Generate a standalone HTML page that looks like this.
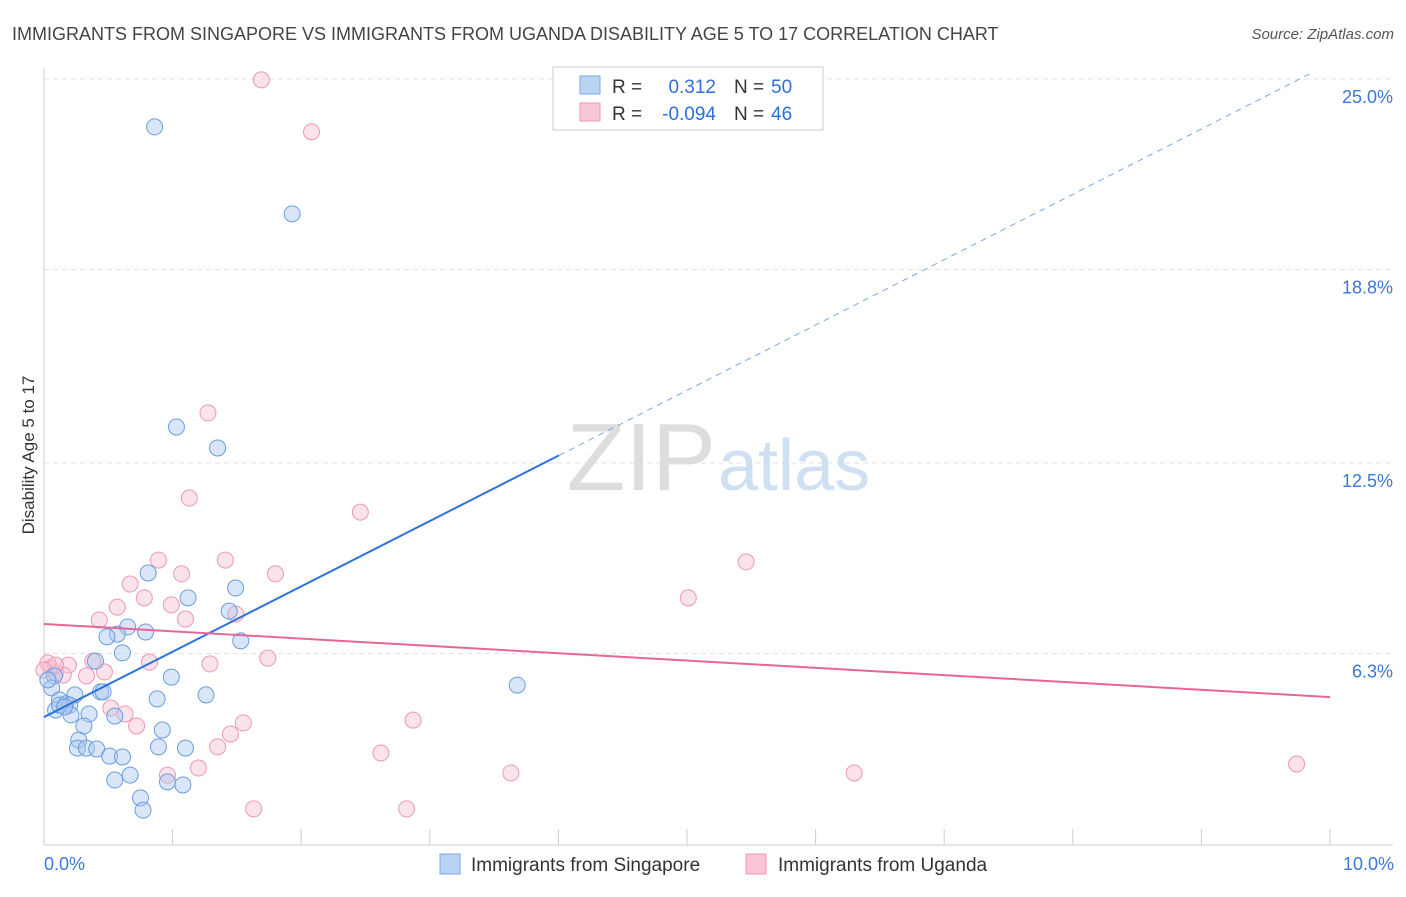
<!DOCTYPE html>
<html><head><meta charset="utf-8"><style>
body{margin:0;background:#fff;font-family:"Liberation Sans",sans-serif;}
svg text{font-family:"Liberation Sans",sans-serif;}
</style></head><body>
<svg id="chart" width="1406" height="892">
<text x="12" y="40" font-size="18" fill="#444">IMMIGRANTS FROM SINGAPORE VS IMMIGRANTS FROM UGANDA DISABILITY AGE 5 TO 17 CORRELATION CHART</text>
<text x="1394" y="39" font-size="15" fill="#555" font-style="italic" text-anchor="end">Source: ZipAtlas.com</text>
<text x="34" y="455" font-size="17" fill="#333" text-anchor="middle" transform="rotate(-90 34 455)">Disability Age 5 to 17</text>
<g id="grid"></g>
<text x="716" y="490" font-size="96" fill="#ddd" text-anchor="end" font-family="Liberation Serif">ZIP</text>
<text x="718" y="490" font-size="72" fill="#cfe0f3">atlas</text>
<g id="pts"></g>
<g id="lines"></g>
<g>
<rect x="553" y="67" width="270" height="63" fill="#fff" stroke="#ccc"/>
<rect x="580" y="76" width="20" height="18" fill="#b8d3f3" stroke="#7aa9e6"/>
<rect x="580" y="103" width="20" height="18" fill="#f9c6d6" stroke="#ec98b6"/>
<text x="612" y="93" font-size="19" fill="#333">R = </text><text x="716" y="93" font-size="19" fill="#2d6fd6" text-anchor="end">0.312</text>
<text x="734" y="93" font-size="19" fill="#333">N = </text><text x="771" y="93" font-size="19" fill="#2d6fd6">50</text>
<text x="612" y="120" font-size="19" fill="#333">R = </text><text x="716" y="120" font-size="19" fill="#2d6fd6" text-anchor="end">-0.094</text>
<text x="734" y="120" font-size="19" fill="#333">N = </text><text x="771" y="120" font-size="19" fill="#2d6fd6">46</text>
</g>
<g>
<rect x="440" y="854" width="20" height="20" fill="#b8d3f3" stroke="#7aa9e6"/>
<text x="471" y="871" font-size="19" fill="#333">Immigrants from Singapore</text>
<rect x="746" y="854" width="20" height="20" fill="#f9c6d6" stroke="#ec98b6"/>
<text x="778" y="871" font-size="19" fill="#333">Immigrants from Uganda</text>
</g>
</svg>
<script>
const yTicks=[25.0,18.8,12.5,6.3];
const xTickLabels=["0.0%","10.0%"];
const blueX=[0.86,1.93,1.03,1.35,0.81,1.49,1.12,1.44,0.79,0.65,0.57,0.49,1.53,0.61,0.40,0.99,3.68,0.08,0.06,0.44,0.46,0.24,1.26,0.88,0.12,0.17,0.20,0.09,0.21,0.35,0.55,0.31,0.92,0.27,0.26,0.33,0.41,0.89,1.10,0.51,0.61,0.67,0.55,0.96,1.08,0.75,0.77,0.12,0.16,0.03];
const blueY=[23.44,20.61,13.67,12.99,8.92,8.43,8.11,7.68,7.00,7.16,6.93,6.84,6.71,6.32,6.05,5.53,5.27,5.57,5.18,5.05,5.05,4.95,4.95,4.82,4.79,4.66,4.62,4.46,4.30,4.33,4.26,3.94,3.81,3.48,3.22,3.22,3.19,3.26,3.22,2.96,2.93,2.34,2.18,2.12,2.02,1.60,1.20,4.62,4.56,5.44];
const pinkX=[1.69,2.08,1.275,1.13,2.46,5.46,0.89,1.41,1.07,1.80,0.67,0.78,5.01,0.99,0.57,1.49,0.43,1.10,0.38,0.82,1.74,1.29,0.19,0.05,0.09,0.15,0.33,0.47,0.52,0.63,1.55,0.72,1.45,2.87,1.35,2.62,1.20,0.96,3.63,6.30,9.74,1.63,2.82,0.03,0.09,0.00];
const pinkY=[24.97,23.28,14.13,11.36,10.90,9.28,9.34,9.34,8.89,8.89,8.56,8.11,8.11,7.88,7.81,7.58,7.39,7.42,6.05,6.02,6.15,5.96,5.92,5.83,5.66,5.60,5.57,5.70,4.52,4.33,4.04,3.94,3.68,4.13,3.26,3.06,2.57,2.34,2.41,2.41,2.70,1.24,1.24,5.99,5.92,5.76];
const blueTrend=[0,4.23,10,25.5];
const pinkTrend=[0,7.26,10,4.88];
const X0=44,XS=128.6,Y0=847,YS=30.72;
const xs=v=>X0+v*XS, ys=v=>Y0-v*YS;
const NS="http://www.w3.org/2000/svg";
function mk(t,a,p){const e=document.createElementNS(NS,t);for(const k in a)e.setAttribute(k,a[k]);p.appendChild(e);return e;}
const grid=document.getElementById('grid');
yTicks.forEach(t=>{
  const g=mk('line',{x1:44,x2:1393,y1:ys(t),y2:ys(t),stroke:'#e2e2e2','stroke-dasharray':'5,4'},grid);
  
  
  const tx=mk('text',{x:1393,y:ys(t)+24,'font-size':18,fill:'#3b78d8','text-anchor':'end'},grid);
  tx.textContent=t.toFixed(1)+'%';
  
  
});
const ax=mk('line',{x1:44,x2:1393,y1:845,y2:845,stroke:'#ccc'},grid);


const ay=mk('line',{x1:44,x2:44,y1:68,y2:845,stroke:'#ccc'},grid);


for(let i=0;i<=10;i++){
  const tk=mk('line',{x1:xs(i),x2:xs(i),y1:829,y2:845,stroke:'#ccc'},grid);
  
  
}
[[0,'start',44],[1,'end',1394]].forEach(([i,a,x])=>{
  const t=mk('text',{x:x,y:870,'font-size':18,fill:'#3b78d8','text-anchor':a},grid);
  t.textContent=xTickLabels[i];
  
  
});
const pts=document.getElementById('pts');
pinkX.forEach((v,i)=>{
  const c=mk('circle',{cx:xs(v),cy:ys(pinkY[i]),r:8,fill:'rgba(248,190,210,0.45)',stroke:'#ec98b6','stroke-width':1},pts);
  
  
});
blueX.forEach((v,i)=>{
  const c=mk('circle',{cx:xs(v),cy:ys(blueY[i]),r:8,fill:'rgba(170,200,240,0.45)',stroke:'#6a9de0','stroke-width':1},pts);
  
  
});
const lines=document.getElementById('lines');
const bf=x=>blueTrend[1]+(blueTrend[3]-blueTrend[1])*(x-blueTrend[0])/(blueTrend[2]-blueTrend[0]);
const bx=(559-X0)/XS, ex=9.84;
const l1=mk('line',{x1:xs(0),y1:ys(bf(0)),x2:xs(bx),y2:ys(bf(bx)),stroke:'#2d74d8','stroke-width':2},lines);


const l2=mk('line',{x1:xs(bx),y1:ys(bf(bx)),x2:xs(ex),y2:ys(bf(ex)),stroke:'#7aa9e6','stroke-width':1,'stroke-dasharray':'6,5'},lines);


const l3=mk('line',{x1:xs(pinkTrend[0]),y1:ys(pinkTrend[1]),x2:xs(pinkTrend[2]),y2:ys(pinkTrend[3]),stroke:'#e8659a','stroke-width':2},lines);


</script>
</body></html>
